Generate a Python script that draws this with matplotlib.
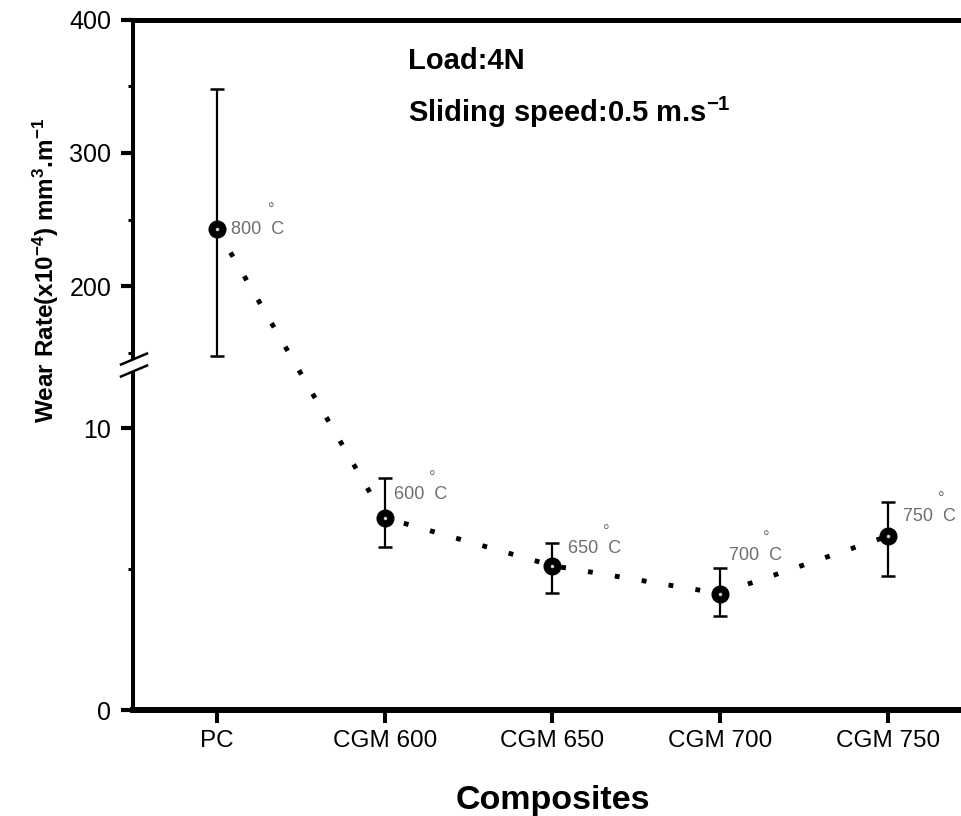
import matplotlib
matplotlib.use("Agg")
import matplotlib.pyplot as plt
import numpy as np
from matplotlib import font_manager, transforms
from matplotlib.lines import Line2D
from matplotlib.patches import Polygon

# data
composites = ["PC", "CGM 600", "CGM 650", "CGM 700", "CGM 750"]
wear_rate = [243, 6.82, 5.12, 4.13, 6.17]
err_low = [95, 1.04, 0.98, 0.78, 1.43]
err_high = [105, 1.40, 0.80, 0.92, 1.22]
temps = ["800", "600", "650", "700", "750"]
major_ticks = [0, 10, 200, 300, 400]
minor_ticks = [5, 150, 250, 350]

plt.rcParams["font.family"] = ["Liberation Sans", "DejaVu Sans"]
plt.rcParams["mathtext.fontset"] = "custom"
plt.rcParams["mathtext.rm"] = "Liberation Sans:bold"
plt.rcParams["mathtext.bf"] = "Liberation Sans:bold"
plt.rcParams["mathtext.it"] = "Liberation Sans:bold"

names = {f.name for f in font_manager.fontManager.ttflist}
if "Liberation Sans Narrow" in names:
    ylab_family, ylab_size = ["Liberation Sans Narrow", "Liberation Sans"], 22
else:
    ylab_family, ylab_size = ["Liberation Sans"], 17.5

# broken y axis: 0-12 below, 140-400 above
LOW_TOP = 12.0
UP_BOT = 140.0
K = 0.04734
UP0 = 12.66 + (UP_BOT - 150) * K


def fwd(v):
    v = np.asarray(v, dtype=float)
    mid = LOW_TOP + (v - LOW_TOP) * (UP0 - LOW_TOP) / (UP_BOT - LOW_TOP)
    return np.where(v <= LOW_TOP, v, np.where(v >= UP_BOT, UP0 + (v - UP_BOT) * K, mid))


def inv(t):
    t = np.asarray(t, dtype=float)
    mid = LOW_TOP + (t - LOW_TOP) * (UP_BOT - LOW_TOP) / (UP0 - LOW_TOP)
    return np.where(t <= LOW_TOP, t, np.where(t >= UP0, UP_BOT + (t - UP0) / K, mid))


fig = plt.figure(figsize=(9.61, 8.16), dpi=100)
ax = fig.add_axes([133 / 961, 106 / 816, 838.8 / 961, 690.5 / 816])
ax.set_yscale("function", functions=(fwd, inv))

x = np.arange(len(composites))
ax.plot(x, wear_rate, color="black", lw=3.5, linestyle=(0, (1, 4.6)), zorder=2)
ax.errorbar(x, wear_rate, yerr=[err_low, err_high], fmt="none", ecolor="black",
            elinewidth=1.6, capsize=5, capthick=1.8, zorder=3)
ax.plot(x, wear_rate, "o", color="black", ms=12, zorder=4)
ax.plot(x, wear_rate, "o", color="#d0d0d0", mec="none", ms=2.5, zorder=5)

# temperature labels, offsets in pixels
lab_off = [(14, -5), (9, 19), (16, 13), (9, 34), (15, 15)]
deg_off = [(54, 14), (48, 35), (54, 29), (46, 51), (53, 32)]
for i in range(len(temps)):
    ax.annotate(temps[i] + "  C", xy=(x[i], wear_rate[i]), xytext=lab_off[i],
                textcoords="offset pixels", ha="left", va="baseline",
                fontsize=13, color="#6e6e6e")
    ax.annotate("°", xy=(x[i], wear_rate[i]), xytext=deg_off[i],
                textcoords="offset pixels", ha="center", va="baseline",
                fontsize=12, color="#6e6e6e")

ax.set_xlim(-0.5, 4.5)
ax.set_ylim(0, 400)
ax.set_xticks(x)
ax.set_xticklabels(composites)
ax.set_yticks(major_ticks)
ax.set_yticklabels([str(t) for t in major_ticks])
ax.set_yticks(minor_ticks, minor=True)
ax.tick_params(axis="y", which="major", direction="out", length=9, width=3,
               labelsize=18, pad=6.5)
ax.tick_params(axis="y", which="minor", direction="out", length=3.6, width=2.2)
ax.tick_params(axis="x", which="major", direction="out", length=9.4, width=2.9,
               labelsize=17.5, pad=5)
ax.tick_params(axis="x", which="minor", bottom=False)

ax.spines["left"].set_linewidth(2.9)
ax.spines["bottom"].set_linewidth(4.3)
ax.spines["top"].set_linewidth(3.6)
ax.spines["right"].set_visible(False)

# axis break marks on the left spine
trans = transforms.blended_transform_factory(ax.transAxes, ax.transData)
x0, y0 = trans.transform((0, float(inv(12.22))))
up = [(x0 - 12, y0 + 1), (x0 + 14, y0 + 12)]
lo = [(x0 - 12, y0 - 11), (x0 + 14, y0)]
fig.add_artist(Polygon([up[0], up[1], lo[1], lo[0]], closed=True, facecolor="white",
                       edgecolor="none", transform=transforms.IdentityTransform(),
                       zorder=5))
for seg in (up, lo):
    fig.add_artist(Line2D([seg[0][0], seg[1][0]], [seg[0][1], seg[1][1]], color="black",
                          lw=1.8, transform=transforms.IdentityTransform(), zorder=6))

fig.text(552.5 / 961, 1 - 809 / 816, "Composites", ha="center", va="baseline",
         fontsize=24.5, fontweight="bold")
fig.text(54 / 961, 1 - 270 / 816,
         r"Wear Rate(x10$^{\mathbf{-4}}$) mm$^{\mathbf{3}}$.m$^{\mathbf{-1}}$",
         rotation=90, rotation_mode="anchor", ha="center", va="baseline",
         fontsize=ylab_size, fontweight="bold", family=ylab_family)

ax.text(0.3278, (710 - 69) / 690.5, "Load:4N", transform=ax.transAxes,
        ha="left", va="baseline", fontsize=21, fontweight="bold")
ax.text(0.3278, (710 - 122) / 690.5, r"Sliding speed:0.5 m.s$^{\mathbf{-1}}$",
        transform=ax.transAxes, ha="left", va="baseline", fontsize=21, fontweight="bold")

fig.savefig("out.png", dpi=100)
